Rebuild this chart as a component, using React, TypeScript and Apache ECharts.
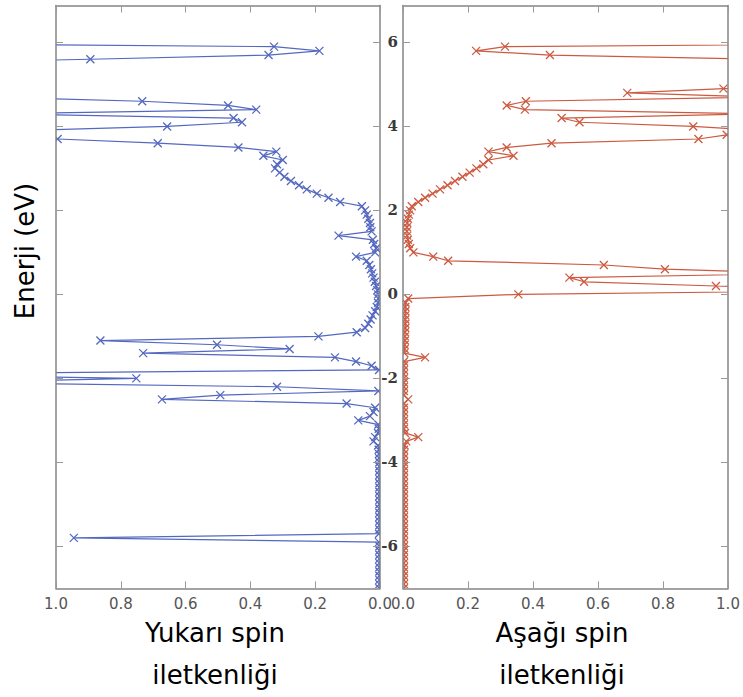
import React, { useEffect, useRef } from "react";
import * as echarts from "echarts";

// Energy grid (eV), ascending
const energies = [
  -7.0, -6.9, -6.8, -6.7, -6.6, -6.5, -6.4, -6.3, -6.2, -6.1,
  -6.0, -5.9, -5.8, -5.7, -5.6, -5.5, -5.4, -5.3, -5.2, -5.1,
  -5.0, -4.9, -4.8, -4.7, -4.6, -4.5, -4.4, -4.3, -4.2, -4.1,
  -4.0, -3.9, -3.8, -3.7, -3.6, -3.5, -3.4, -3.3, -3.2, -3.1,
  -3.0, -2.9, -2.8, -2.7, -2.6, -2.5, -2.4, -2.3, -2.2, -2.1,
  -2.0, -1.9, -1.8, -1.7, -1.6, -1.5, -1.4, -1.3, -1.2, -1.1,
  -1.0, -0.9, -0.8, -0.7, -0.6, -0.5, -0.4, -0.3, -0.2, -0.1,
  0.0, 0.1, 0.2, 0.3, 0.4, 0.5, 0.6, 0.7, 0.8, 0.9,
  1.0, 1.1, 1.2, 1.3, 1.4, 1.5, 1.6, 1.7, 1.8, 1.9,
  2.0, 2.1, 2.2, 2.3, 2.4, 2.5, 2.6, 2.7, 2.8, 2.9,
  3.0, 3.1, 3.2, 3.3, 3.4, 3.5, 3.6, 3.7, 3.8, 3.9,
  4.0, 4.1, 4.2, 4.3, 4.4, 4.5, 4.6, 4.7, 4.8, 4.9,
  5.0, 5.1, 5.2, 5.3, 5.4, 5.5, 5.6, 5.7, 5.8, 5.9,
  6.0, 6.1, 6.2, 6.3, 6.4, 6.5, 6.6, 6.7, 6.8, 6.9,
];

// Spin-up conductance (same order as energies); values > 1 lie off the panel
const upConductance = [
  0.002, 0.002, 0.002, 0.002, 0.002, 0.002, 0.002, 0.002, 0.002, 0.002,
  0.002, 0.003, 0.945, 0.003, 0.002, 0.002, 0.002, 0.002, 0.002, 0.002,
  0.002, 0.002, 0.002, 0.002, 0.002, 0.002, 0.002, 0.002, 0.002, 0.002,
  0.002, 0.003, 0.003, 0.004, 0.006, 0.02, 0.015, 0.006, 0.004, 0.005,
  0.067, 0.031, 0.02, 0.015, 0.103, 0.673, 0.493, 0.005, 0.318, 1.35,
  0.752, 1.6, 0.003, 0.026, 0.074, 0.139, 0.731, 0.279, 0.503, 0.863,
  0.19, 0.072, 0.046, 0.036, 0.029, 0.023, 0.015, 0.01, 0.006, 0.005,
  0.006, 0.008, 0.012, 0.016, 0.02, 0.024, 0.028, 0.033, 0.041, 0.074,
  0.015, 0.012, 0.018, 0.022, 0.128, 0.026, 0.03, 0.031, 0.036, 0.041,
  0.046, 0.056, 0.123, 0.159, 0.195, 0.226, 0.25, 0.275, 0.295, 0.31,
  0.324, 0.318, 0.3, 0.36, 0.32, 0.437, 0.686, 0.995, 1.5, 1.1,
  0.657, 0.426, 0.452, 1.2, 0.382, 0.469, 0.734, 1.2, 2.2, 2.8,
  3.0, 2.5, 2.0, 2.4, 2.2, 1.5, 0.894, 0.344, 0.187, 0.327,
  2.0, 2.6, 3.0, 2.4, 2.2, 2.8, 3.2, 2.5, 2.2, 2.6,
];

// Spin-down conductance (same order as energies)
const downConductance = [
  0.003, 0.003, 0.003, 0.003, 0.003, 0.003, 0.003, 0.003, 0.003, 0.003,
  0.003, 0.003, 0.003, 0.003, 0.003, 0.003, 0.003, 0.003, 0.003, 0.003,
  0.003, 0.003, 0.003, 0.003, 0.003, 0.003, 0.003, 0.003, 0.003, 0.003,
  0.003, 0.003, 0.003, 0.003, 0.005, 0.01, 0.047, 0.006, 0.003, 0.003,
  0.003, 0.003, 0.003, 0.003, 0.003, 0.016, 0.003, 0.003, 0.003, 0.003,
  0.003, 0.003, 0.003, 0.003, 0.003, 0.068, 0.004, 0.005, 0.005, 0.006,
  0.006, 0.006, 0.007, 0.007, 0.007, 0.007, 0.007, 0.007, 0.008, 0.016,
  0.355, 1.5, 0.963, 0.557, 0.512, 1.25, 0.806, 0.618, 0.139, 0.093,
  0.032, 0.022, 0.018, 0.015, 0.013, 0.012, 0.012, 0.013, 0.015, 0.018,
  0.022, 0.027, 0.047, 0.068, 0.091, 0.114, 0.137, 0.16, 0.183, 0.205,
  0.226, 0.247, 0.263, 0.34, 0.263, 0.319, 0.457, 0.909, 0.996, 1.1,
  0.893, 0.543, 0.488, 1.1, 0.375, 0.319, 0.378, 1.1, 0.69, 0.986,
  2.2, 2.5, 3.0, 2.4, 2.0, 2.6, 1.1, 0.452, 0.225, 0.314,
  2.1, 2.4, 2.8, 3.0, 2.2, 2.6, 2.9, 2.3, 2.5, 2.7,
];

const xTickStep = 0.2;
const energyTicks = [-6, -4, -2, 0, 2, 4, 6];
const energyMin = -7;
const energyMax = 6.88;

const yAxisTitle = "Enerji (eV)";
const leftTitle = ["Yukarı spin", "iletkenliği"];
const rightTitle = ["Aşağı spin", "iletkenliği"];

const BLUE = "#5468c0";
const RED = "#cc5a40";
const FRAME = "#858585";
const TICK = "#9a9a9a";
const CROSS = "path://M0,0L10,10M0,10L10,0";

export default function App() {
  const ref = useRef<HTMLDivElement>(null);

  useEffect(() => {
    if (!ref.current) return;
    const chart = echarts.init(ref.current, undefined, { renderer: "svg" });

    const upData = energies.map((e, i) => [upConductance[i], e]);
    const downData = energies.map((e, i) => [downConductance[i], e]);

    const L0 = 56, R0 = 380, L1 = 403, R1 = 728, TOP = 5.5, H = 582.8;
    const grids = [
      { left: L0, top: TOP, width: R0 - L0, height: H, show: false },
      { left: L1, top: TOP, width: R1 - L1, height: H, show: false },
    ];

    const xLabel = {
      show: true,
      fontFamily: "DejaVu Sans",
      fontSize: 15,
      color: "#555",
      margin: 8,
      formatter: (v: number) => v.toFixed(1),
    };
    const frameLine = { show: true, onZero: false, lineStyle: { color: FRAME, width: 1.5 } };
    const tickIn = { show: true, inside: true, length: 7, lineStyle: { color: TICK, width: 1 } };

    const makeX = (gridIndex: number, inverse: boolean, position: string, labels: boolean) => ({
      type: "value",
      gridIndex,
      min: 0,
      max: 1,
      interval: xTickStep,
      inverse,
      position,
      z: 10,
      axisLine: frameLine,
      axisTick: tickIn,
      axisLabel: labels ? xLabel : { show: false },
      splitLine: { show: false },
    });

    const makeY = (gridIndex: number, position: string, labels: boolean) => ({
      type: "value",
      gridIndex,
      min: energyMin,
      max: energyMax,
      position,
      z: 10,
      axisLine: frameLine,
      axisTick: { ...tickIn, customValues: energyTicks },
      axisLabel: labels
        ? {
            show: true,
            customValues: energyTicks,
            fontFamily: "DejaVu Serif",
            fontWeight: "bold",
            fontSize: 15,
            color: "#3a3a3a",
            margin: 5,
          }
        : { show: false },
      splitLine: { show: false },
    });

    const textStyle = (text: string, size: number) => ({
      text,
      fontFamily: "DejaVu Sans",
      fontSize: size,
      fill: "#000",
      align: "center",
      verticalAlign: "middle",
      textAlign: "center",
      textVerticalAlign: "middle",
    });

    // white masks outside the two panels, so markers are clipped at the frames
    const mask = (x: number, y: number, width: number, height: number) => ({
      type: "rect",
      silent: true,
      z: 5,
      shape: { x, y, width, height },
      style: { fill: "#ffffff" },
    });

    chart.setOption({
      animation: false,
      backgroundColor: "#ffffff",
      grid: grids,
      xAxis: [
        makeX(0, true, "bottom", true),
        makeX(0, true, "top", false),
        makeX(1, false, "bottom", true),
        makeX(1, false, "top", false),
      ],
      yAxis: [
        makeY(0, "left", false),
        makeY(0, "right", false),
        makeY(1, "left", true),
        makeY(1, "right", false),
      ],
      series: [
        {
          type: "line",
          xAxisIndex: 0,
          yAxisIndex: 0,
          data: upData,
          clip: true,
          silent: true,
          symbol: CROSS,
          symbolSize: 8,
          showSymbol: true,
          lineStyle: { color: BLUE, width: 1.2 },
          itemStyle: { color: BLUE, borderColor: BLUE, borderWidth: 1.3 },
          z: 3,
        },
        {
          type: "line",
          xAxisIndex: 2,
          yAxisIndex: 2,
          data: downData,
          clip: true,
          silent: true,
          symbol: CROSS,
          symbolSize: 8,
          showSymbol: true,
          lineStyle: { color: RED, width: 1.2 },
          itemStyle: { color: RED, borderColor: RED, borderWidth: 1.3 },
          z: 3,
        },
      ],
      graphic: [
        mask(0, 0, 743, TOP),
        mask(0, TOP + H, 743, 12),
        mask(0, 0, L0, 697),
        mask(R0, 0, L1 - R0, 697),
        mask(R1, 0, 743 - R1, 697),
        { type: "text", z: 10, x: 25, y: 251, rotation: Math.PI / 2, style: textStyle(yAxisTitle, 26) },
        { type: "text", z: 10, x: 215, y: 633, style: textStyle(leftTitle[0], 26) },
        { type: "text", z: 10, x: 215, y: 675, style: textStyle(leftTitle[1], 26) },
        { type: "text", z: 10, x: 562, y: 633, style: textStyle(rightTitle[0], 26) },
        { type: "text", z: 10, x: 562, y: 675, style: textStyle(rightTitle[1], 26) },
      ],
    });

    return () => chart.dispose();
  }, []);

  return (
    <div
      ref={ref}
      style={{ position: "fixed", left: 0, top: 0, width: 743, height: 697, background: "#fff" }}
    />
  );
}
